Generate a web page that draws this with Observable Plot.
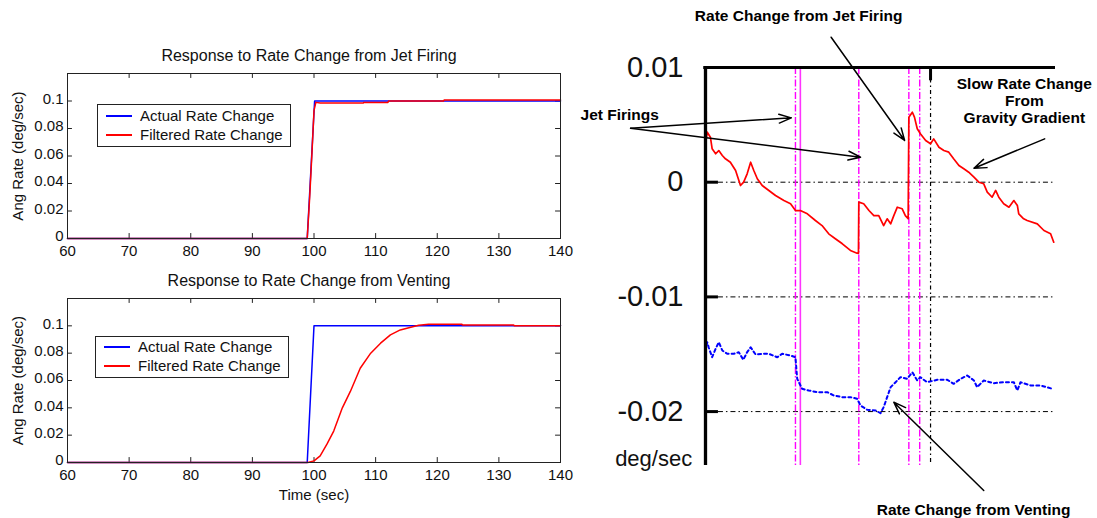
<!DOCTYPE html>
<html>
<head>
<meta charset="utf-8">
<script src="https://cdn.jsdelivr.net/npm/d3@7"></script>
<script src="https://cdn.jsdelivr.net/npm/@observablehq/plot@0.6"></script>
<style>
  body { margin: 0; background: #fff; }
  #root { position: relative; width: 1097px; height: 518px; background: #fff; overflow: hidden;
          font-family: "Liberation Sans", Arial, Helvetica, sans-serif; }
  .chart { position: absolute; }
  .legend { position: absolute; border: 1px solid #222; background: #fff; box-sizing: border-box; }
  .legend .row { position: absolute; left: 0; width: 100%; height: 0; font-size: 15px; color: #111; white-space: nowrap; }
  .legend .sw { position: absolute; left: 8px; top: -1px; width: 26px; height: 2px; }
  .legend .lab { position: absolute; left: 42px; top: -9px; line-height: 18px; }
</style>
</head>
<body>
<div id="root"></div>
<script>
// ---------- Left panels: shared axes ----------
const xTicksLeft = [60, 70, 80, 90, 100, 110, 120, 130, 140];
const yTicksLeft = [0, 0.02, 0.04, 0.06, 0.08, 0.1];
const seriesNames = ["Actual Rate Change", "Filtered Rate Change"];
const panelTitles = ["Response to Rate Change from Jet Firing", "Response to Rate Change from Venting"];
const yAxisTitle = "Ang Rate (deg/sec)";
const xAxisTitle = "Time (sec)";

// Jet firing panel (time s, rate deg/s)
const jetActualT = [60, 98.9, 100.1, 140];
const jetActualV = [0, 0, 0.1, 0.1];
const jetFilteredT = [60, 98.9, 99.3, 99.7, 100, 100.3, 101, 108, 108.1, 112, 112.1, 121, 121.1, 140];
const jetFilteredV = [0, 0, 0.03, 0.065, 0.093, 0.099, 0.0985, 0.0985, 0.099, 0.099, 0.1, 0.1, 0.1007, 0.1007];

// Venting panel
const ventActualT = [60, 98.9, 100, 140];
const ventActualV = [0, 0, 0.1, 0.1];
const ventFilteredT = [60, 99, 100, 101, 102.1, 103.2, 104.6, 105.9, 107.5, 109.2, 110.8, 112.4, 114, 115.7, 117, 118.6, 124, 124.1, 132.4, 132.5, 140];
const ventFilteredV = [0, 0, 0.0012, 0.0049, 0.0134, 0.023, 0.04, 0.052, 0.069, 0.08, 0.0873, 0.0934, 0.097, 0.099, 0.1004, 0.1012, 0.1012, 0.1006, 0.1006, 0.1, 0.1];

// ---------- Right panel: flight data ----------
const rightYTicks = [0.01, 0, -0.01, -0.02];
const rightYLabels = ["0.01", "0", "-0.01", "-0.02"];
const rightGrid = [0, -0.01, -0.02];
const rightUnit = "deg/sec";
const jetFiringDashed = [25.7, 43.8, 58.1, 61.2];
const jetFiringSolid = [27.1];
const gravityMarker = [64.3];

const redT = [0, 0.5, 1.4, 1.9, 2.9, 3.8, 4.8, 5.7, 7.1, 8.6, 10, 10.9, 11.9, 12.9, 13.8, 14.8, 16.2, 18.1, 20, 22.4,
  24.3, 25.7, 27.1, 29.1, 31.4, 33.3, 35.2, 37.1, 39.1, 41.4, 43.3, 43.7, 43.8, 45.2, 46.7, 48.1, 49.5, 50.9, 51.9, 52.9,
  53.8, 54.8, 56.2, 57.1, 57.9, 58.1, 59.1, 59.7, 60.5, 61.4, 62.9, 64.3, 65.2, 66.7, 68.1, 69.5, 70.9, 72.4, 73.8, 75.2,
  76.7, 78.1, 79.5, 80.5, 81.9, 82.9, 83.8, 85.2, 86.7, 88.1, 89.1, 89.5, 90.9, 91.9, 94.8, 96.7, 98.6, 99.5];
const redV = [0.00335, 0.00436, 0.00392, 0.00291, 0.00248, 0.00276, 0.00233, 0.00204, 0.00174, 0.00102, -0.00029, 0, 0.00073, 0.00174, 0.00102, 0.0003, -0.00029, -0.00072, -0.00116, -0.0016,
  -0.00188, -0.00247, -0.00247, -0.00276, -0.00334, -0.00378, -0.0045, -0.00493, -0.00537, -0.00595, -0.00619, -0.0062, -0.00174, -0.00188, -0.00247, -0.00291, -0.00291, -0.00378, -0.00319, -0.00363,
  -0.00291, -0.00218, -0.00232, -0.00291, -0.00319, 0.00567, 0.0061, 0.00567, 0.00466, 0.00422, 0.00364, 0.00335, 0.00378, 0.00305, 0.00276, 0.00262, 0.00204, 0.00146, 0.00117, 0.00087,
  0.00044, 0, -0.00014, -0.00087, -0.00131, -0.00072, -0.00131, -0.00188, -0.00218, -0.0016, -0.00203, -0.00276, -0.00319, -0.00334, -0.00363, -0.00421, -0.0045, -0.00523];

const blueT = [0, 0.5, 0.9, 1.9, 2.9, 3.8, 4.8, 6.2, 8.1, 9.5, 10.8, 11.9, 12.9, 14.3, 16.2, 18.1, 20.5, 21.9, 24.3, 25.7,
  26.2, 27.6, 29.5, 31.9, 34.8, 36.7, 39.1, 41.4, 43.3, 44.3, 46.2, 48.6, 50, 50.9, 51.9, 52.9, 54.3, 55.7, 57.6, 59.1,
  60.5, 61.4, 63.3, 66.2, 69.1, 70.9, 72.9, 74.8, 76.7, 77.6, 79.5, 82.4, 85.2, 88.1, 89.1, 90, 92.9, 95.7, 99.1];
const blueV = [-0.01467, -0.01395, -0.01439, -0.01526, -0.01452, -0.01395, -0.01467, -0.01496, -0.01496, -0.01482, -0.01548, -0.01482, -0.01439, -0.01502, -0.01496, -0.01496, -0.01526, -0.01496, -0.01511, -0.01526,
  -0.01714, -0.01801, -0.01816, -0.01831, -0.01831, -0.0186, -0.01874, -0.01874, -0.01888, -0.01947, -0.01984, -0.0199, -0.02014, -0.01962, -0.01874, -0.01787, -0.01744, -0.017, -0.01714, -0.01657,
  -0.01729, -0.017, -0.01744, -0.01723, -0.01723, -0.01758, -0.01714, -0.01685, -0.01729, -0.01787, -0.01729, -0.01752, -0.01744, -0.01744, -0.01816, -0.01744, -0.01772, -0.01772, -0.01801];

// annotations (data coordinates of the right panel)
const headline = ["Rate Change from Jet Firing", "Slow Rate Change\nFrom\nGravity Gradient", "Rate Change from Venting"];
const headlineT = [26.6, 91.1, 76.6];
const headlineV = [0.01453, 0.00712, -0.02852];
const sideLabel = ["Jet Firings"];
const sideLabelT = [-35.7];
const sideLabelV = [0.00582];
const arrowFromT = [-21.4, -21.4, 35.9, 96.9, 79.5];
const arrowFromV = [0.00471, 0.00471, 0.01264, 0.00378, -0.02688];
const arrowToT = [24.5, 44.3, 56.9, 76.7, 53.8];
const arrowToV = [0.00561, 0.00218, 0.00364, 0.00122, -0.01918];

// ---------- helpers ----------
const FONT = '"Liberation Sans", Arial, Helvetica, sans-serif';
const zip = (T, V) => T.map((t, i) => ({t, v: V[i]}));
const root = document.getElementById("root");

function place(node, left, top) {
  node.classList.add("chart");
  node.style.left = left + "px";
  node.style.top = top + "px";
  root.appendChild(node);
}

function leftPanel({title, actual, filtered, height, marginTop, marginBottom, xLabel}) {
  const tY = 0.0036, tX = 0.8;
  const innerX = xTicksLeft.slice(1, -1);
  const innerY = yTicksLeft.slice(1);
  const ink = "#222";
  return Plot.plot({
    width: 580, height, marginLeft: 67, marginRight: 20, marginTop, marginBottom,
    x: {domain: [60, 140], axis: null},
    y: {domain: [0, 0.12], axis: null},
    style: {fontFamily: FONT, fontSize: "15px", background: "transparent", overflow: "visible", color: "#111"},
    marks: [
      Plot.ruleX(innerX, {x: d => d, y1: 0, y2: tY, stroke: ink}),
      Plot.ruleX(innerX, {x: d => d, y1: 0.12, y2: 0.12 - tY, stroke: ink}),
      Plot.ruleY(innerY, {y: d => d, x1: 60, x2: 60 + tX, stroke: ink}),
      Plot.ruleY(innerY, {y: d => d, x1: 140, x2: 140 - tX, stroke: ink}),
      Plot.axisX({ticks: xTicksLeft, tickSize: 0, tickPadding: 7, label: null, fontSize: 15, tickFormat: d => String(d)}),
      Plot.axisY({ticks: yTicksLeft, tickSize: 0, tickPadding: 4, dy: -2, label: null, fontSize: 15, tickFormat: d => String(d)}),
      Plot.line(actual, {x: "t", y: "v", stroke: "#0000ff", strokeWidth: 1.5}),
      Plot.line(filtered, {x: "t", y: "v", stroke: "#ff0000", strokeWidth: 1.5}),
      Plot.frame({stroke: ink}),
      Plot.text([title], {text: d => d, frameAnchor: "top", dy: -18, dx: -5, fontSize: 16, textAnchor: "middle", lineAnchor: "middle", fill: "#111"}),
      Plot.text([yAxisTitle], {text: d => d, frameAnchor: "left", dx: -49, rotate: -90, fontSize: 15, textAnchor: "middle", lineAnchor: "middle", fill: "#111"}),
      xLabel ? Plot.text([xLabel], {text: d => d, frameAnchor: "bottom", dy: 33, fontSize: 15, textAnchor: "middle", lineAnchor: "middle", fill: "#111"}) : null
    ]
  });
}

function legend(left, top, w, h, rowYs) {
  const box = document.createElement("div");
  box.className = "legend";
  Object.assign(box.style, {left: left + "px", top: top + "px", width: w + "px", height: h + "px"});
  const colors = ["#0000ff", "#ff0000"];
  seriesNames.forEach((name, i) => {
    const row = document.createElement("div");
    row.className = "row";
    row.style.top = rowYs[i] + "px";
    const sw = document.createElement("div");
    sw.className = "sw";
    sw.style.background = colors[i];
    const lab = document.createElement("span");
    lab.className = "lab";
    lab.textContent = name;
    row.appendChild(sw);
    row.appendChild(lab);
    box.appendChild(row);
  });
  root.appendChild(box);
}

// ---------- build ----------
place(leftPanel({
  title: panelTitles[0],
  actual: zip(jetActualT, jetActualV),
  filtered: zip(jetFilteredT, jetFilteredV),
  height: 225, marginTop: 33, marginBottom: 27
}), 0, 40);
legend(97, 104, 194, 43, [11, 30]);

place(leftPanel({
  title: panelTitles[1],
  actual: zip(ventActualT, ventActualV),
  filtered: zip(ventFilteredT, ventFilteredV),
  height: 253, marginTop: 33, marginBottom: 56, xLabel: xAxisTitle
}), 0, 265);
legend(95, 336, 194, 42, [10, 29]);

const arrows = arrowFromT.map((t, i) => ({x1: t, y1: arrowFromV[i], x2: arrowToT[i], y2: arrowToV[i]}));
const tickT = 3.7;
const right = Plot.plot({
  width: 517, height: 518, marginLeft: 125, marginRight: 42, marginTop: 67, marginBottom: 53,
  x: {domain: [0, 100], axis: null},
  y: {domain: [-0.0247, 0.01], axis: null},
  style: {fontFamily: FONT, background: "transparent", overflow: "visible", color: "#111"},
  marks: [
    Plot.ruleY(rightGrid, {y: d => d, x1: tickT, x2: 100, stroke: "#000", strokeWidth: 1, strokeDasharray: "5,3,1.5,3"}),
    Plot.ruleX(gravityMarker, {x: d => d, stroke: "#000", strokeWidth: 1.2, strokeDasharray: "4,3,1.5,3"}),
    Plot.ruleX(gravityMarker, {x: d => d, y1: 0.01, y2: 0.00884, stroke: "#000", strokeWidth: 3}),
    Plot.ruleX(jetFiringDashed, {x: d => d, stroke: "#ff00ff", strokeWidth: 1.4, strokeDasharray: "7,2,1.5,2"}),
    Plot.ruleX(jetFiringSolid, {x: d => d, stroke: "#ff33ff", strokeWidth: 1.6}),
    Plot.line(zip(blueT, blueV), {x: "t", y: "v", stroke: "#0000ff", strokeWidth: 2, strokeDasharray: "3,3"}),
    Plot.line(zip(redT, redV), {x: "t", y: "v", stroke: "#ff0000", strokeWidth: 1.7}),
    Plot.ruleX([0], {x: d => d, stroke: "#000", strokeWidth: 3.3}),
    Plot.ruleY([0.01], {y: d => d, x1: -0.5, x2: 100, stroke: "#000", strokeWidth: 3}),
    Plot.ruleY(rightGrid, {y: d => d, x1: 0, x2: tickT, stroke: "#000", strokeWidth: 3}),
    Plot.axisY({ticks: rightYTicks, tickSize: 0, tickPadding: 22, label: null, fontSize: 29,
      tickFormat: d => rightYLabels[rightYTicks.indexOf(d)], fill: "#111"}),
    Plot.text([rightUnit], {text: d => d, x: -3.8, y: -0.02412, textAnchor: "end", fontSize: 22, fill: "#111"}),
    Plot.arrow(arrows, {x1: "x1", y1: "y1", x2: "x2", y2: "y2", stroke: "#000", strokeWidth: 1.5, headLength: 13, headAngle: 40}),
    Plot.text(headline, {text: d => d, x: (d, i) => headlineT[i], y: (d, i) => headlineV[i], fontSize: 15.5, fontWeight: "bold", lineHeight: 1.11, fill: "#000"}),
    Plot.text(sideLabel, {text: d => d, x: (d, i) => sideLabelT[i], y: (d, i) => sideLabelV[i], textAnchor: "start", fontSize: 15.5, fontWeight: "bold", fill: "#000"})
  ]
});
place(right, 580, 0);
</script>
</body>
</html>
